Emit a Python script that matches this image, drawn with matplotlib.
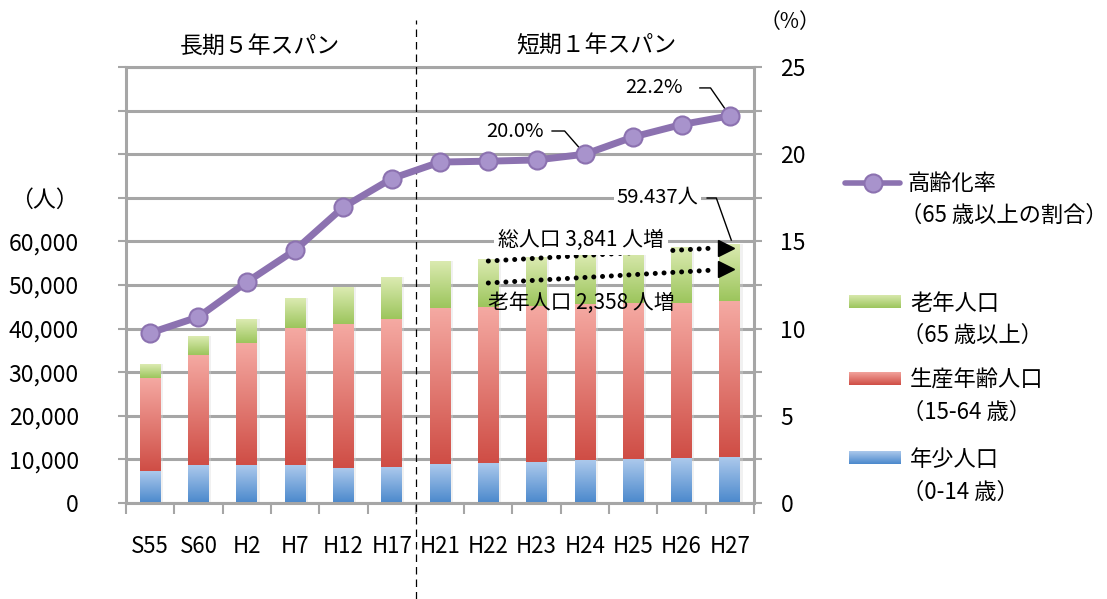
import numpy as np
import matplotlib
matplotlib.use('Agg')
import matplotlib.pyplot as plt
from matplotlib.colors import LinearSegmentedColormap
from matplotlib.patches import Rectangle
from matplotlib.lines import Line2D

plt.rcParams['font.family'] = ['Noto Sans CJK JP', 'DejaVu Sans']

# ---------------- data ----------------
categories = ['S55', 'S60', 'H2', 'H7', 'H12', 'H17', 'H21',
              'H22', 'H23', 'H24', 'H25', 'H26', 'H27']
young = [7330, 8700, 8700, 8700, 8010, 8240, 8930, 9160, 9390, 9850, 10080, 10300, 10530]
working = [21400, 25340, 28030, 31440, 33060, 33880, 35826, 35860, 35860, 35770, 35690, 35600, 35709]
elderly = [3100, 4200, 5400, 6800, 8390, 9630, 10840, 10980, 11080, 11400, 12160, 12720, 13198]
aging_rate = [9.75, 10.67, 12.67, 14.5, 16.97, 18.6, 19.55, 19.6, 19.67, 20.0, 20.99, 21.7, 22.2]
left_ticks = list(range(0, 100001, 10000))
right_ticks = [0, 5, 10, 15, 20, 25]
header_labels = ['長期５年スパン', '短期１年スパン']
legend_labels = [('高齢化率', '（65 歳以上の割合）'),
                 ('老年人口', '（65 歳以上）'),
                 ('生産年齢人口', '（15-64 歳）'),
                 ('年少人口', '（0-14 歳）')]

young = np.array(young); working = np.array(working); elderly = np.array(elderly)
total = young + working + elderly

W, H = 1107, 599
def fx(px): return px / W
def fy(py): return 1 - py / H

GRID = '#a6a6a6'
LINE_C = '#8c72b0'
MK_FACE = '#a893cc'
GREEN = ('#dcebb2', '#9cc55c')
RED = ('#f5aaa3', '#cf4d45')
BLUE = ('#acc9ec', '#4a88cc')

fig = plt.figure(figsize=(W / 100, H / 100), dpi=100)
ax = fig.add_axes([fx(126), fy(503), (754 - 126) / W, (503 - 67) / H])

x = np.arange(len(categories))
bw = 0.43
b1 = ax.bar(x, young, width=bw, zorder=2)
b2 = ax.bar(x, working, bottom=young, width=bw, zorder=2)
b3 = ax.bar(x, elderly, bottom=young + working, width=bw, zorder=2)

grad = np.linspace(0, 1, 256).reshape(-1, 1)
def grad_fill(bars, ctop, cbot):
    cmap = LinearSegmentedColormap.from_list('g', [cbot, ctop])
    for p in bars:
        p.set_facecolor('none'); p.set_edgecolor('none')
        x0, y0, w, h = p.get_x(), p.get_y(), p.get_width(), p.get_height()
        sh = Rectangle((x0 + 0.05, y0), w, h, facecolor='#d8d8d8', edgecolor='none',
                       alpha=0.35, zorder=1.5)
        ax.add_patch(sh)
        im = ax.imshow(grad, cmap=cmap, extent=[x0, x0 + w, y0, y0 + h], origin='lower',
                       aspect='auto', zorder=2, interpolation='bilinear')
        im.set_clip_path(p)

grad_fill(b1, *BLUE)
grad_fill(b2, *RED)
grad_fill(b3, *GREEN)

ax.set_xlim(-0.5, len(categories) - 0.5)
ax.set_ylim(0, 100000)
ax.set_yticks(left_ticks)
ylabels = []
for v in left_ticks:
    if v <= 60000:
        ylabels.append(f'{v:,}')
    elif v == 70000:
        ylabels.append('（人）')
    else:
        ylabels.append('')
ax.set_yticklabels(ylabels)
ax.grid(axis='y', color=GRID, lw=2.2, zorder=0)
ax.set_axisbelow(True)
ax.tick_params(axis='y', length=6, width=1.5, color=GRID, labelsize=16.5, pad=28)

ax.set_xticks(np.arange(-0.5, len(categories), 1.0))
ax.set_xticklabels([])
ax.set_xticks(x, minor=True)
ax.set_xticklabels(categories, minor=True)
ax.tick_params(axis='x', which='major', length=8, width=1.5, color=GRID)
ax.tick_params(axis='x', which='minor', length=0, labelsize=16, pad=23)
for s in ax.spines.values():
    s.set_color(GRID); s.set_linewidth(2.2)

ax.axvline(5.5, ymin=(503 - 599) / 436, ymax=(503 - 20) / 436, clip_on=False,
           color='black', lw=0.9, ls=(0, (6, 4)), zorder=3)

# right axis
ax2 = ax.twinx()
ax2.set_ylim(0, 25)
ax2.set_yticks(right_ticks)
ax2.set_yticks(np.arange(2.5, 25, 5), minor=True)
ax2.tick_params(axis='y', which='both', length=6, width=1.5, color=GRID, labelsize=16.5, pad=13)
for s in ax2.spines.values():
    s.set_visible(False)
ax2.plot(x, aging_rate, color=LINE_C, lw=5, marker='o', ms=13, mfc=MK_FACE,
         mec=LINE_C, mew=1.5, zorder=5, solid_capstyle='round')

def leader(axis, pts):
    xs, ys = zip(*pts)
    axis.plot(xs, ys, color='black', lw=1.0, zorder=4, clip_on=False)

ax2.text(10.43, 23.8, f'{aging_rate[12]:.1f}%', ha='center', va='center', fontsize=14.5, zorder=6)
leader(ax2, [(11.38, 23.8), (11.6, 23.8), (12, aging_rate[12])])
ax2.text(7.55, 21.33, f'{aging_rate[9]:.1f}%', ha='center', va='center', fontsize=14.5, zorder=6)
leader(ax2, [(8.32, 21.33), (8.58, 21.33), (9, aging_rate[9])])

# total label (people scale on ax2: 1% = 4000 people)
ax2.text(10.5, 70180 / 4000, f'{total[12]/1000:.3f}人', ha='center', va='center', fontsize=14.5,
         zorder=6, bbox=dict(facecolor='white', edgecolor='none', pad=2))
leader(ax2, [(11.53, 69950 / 4000), (11.72, 69950 / 4000), (12.03, 60300 / 4000)])

def dotted_arrow(x0, y0, x1, y1, xt, yt):
    ax2.plot([x0, x1], [y0 / 4000, y1 / 4000], color='black', lw=3.6, ls=(0, (0.01, 1.75)),
             dash_capstyle='round', zorder=6)
    ax2.plot([xt], [yt / 4000], marker='>', ms=12, color='black', zorder=6)

dotted_arrow(7.0, 55500, 11.69, 58480, 11.93, 58600)
dotted_arrow(7.0, 50460, 11.69, 53440, 11.93, 53670)

ax2.text(8.92, 60320 / 4000, f'総人口 {total[12]-total[6]:,} 人増', ha='center', va='center',
         fontsize=15, zorder=6, bbox=dict(facecolor='white', edgecolor='none', pad=3))
ax2.text(8.92, 45870 / 4000, f'老年人口 {elderly[12]-elderly[6]:,} 人増', ha='center', va='center',
         fontsize=15, zorder=6)

# headers
fig.text(fx(260), fy(46), header_labels[0], ha='center', va='center', fontsize=16.5)
fig.text(fx(596), fy(46), header_labels[1], ha='center', va='center', fontsize=16.5)
fig.text(fx(790), fy(22), '（%）', ha='center', va='center', fontsize=15)

# legend
fig.add_artist(Line2D([fx(845), fx(900)], [fy(183), fy(183)], transform=fig.transFigure,
                      color=LINE_C, lw=4, solid_capstyle='round'))
fig.add_artist(Line2D([fx(873)], [fy(183)], transform=fig.transFigure, marker='o', ms=13,
                      mfc=MK_FACE, mec=LINE_C, mew=1.5))
fig.text(fx(908), fy(183), legend_labels[0][0], ha='left', va='center', fontsize=16)
fig.text(fx(900), fy(215), legend_labels[0][1], ha='left', va='center', fontsize=16)

def legend_rect(ytop, ybot, colors):
    lax = fig.add_axes([fx(849), fy(ybot), 52 / W, (ybot - ytop) / H])
    cmap = LinearSegmentedColormap.from_list('g', [colors[1], colors[0]])
    lax.imshow(grad, cmap=cmap, origin='lower', aspect='auto', extent=[0, 1, 0, 1])
    lax.axis('off')

for (ytop, ybot, ty1, ty2, cols), labs in zip(
        [(295, 308, 303, 335, GREEN), (372, 385, 380, 412, RED), (451, 464, 460, 492, BLUE)],
        legend_labels[1:]):
    legend_rect(ytop, ybot, cols)
    fig.text(fx(910), fy(ty1), labs[0], ha='left', va='center', fontsize=16)
    fig.text(fx(902), fy(ty2), labs[1], ha='left', va='center', fontsize=16)

fig.savefig('out.png', dpi=100)
